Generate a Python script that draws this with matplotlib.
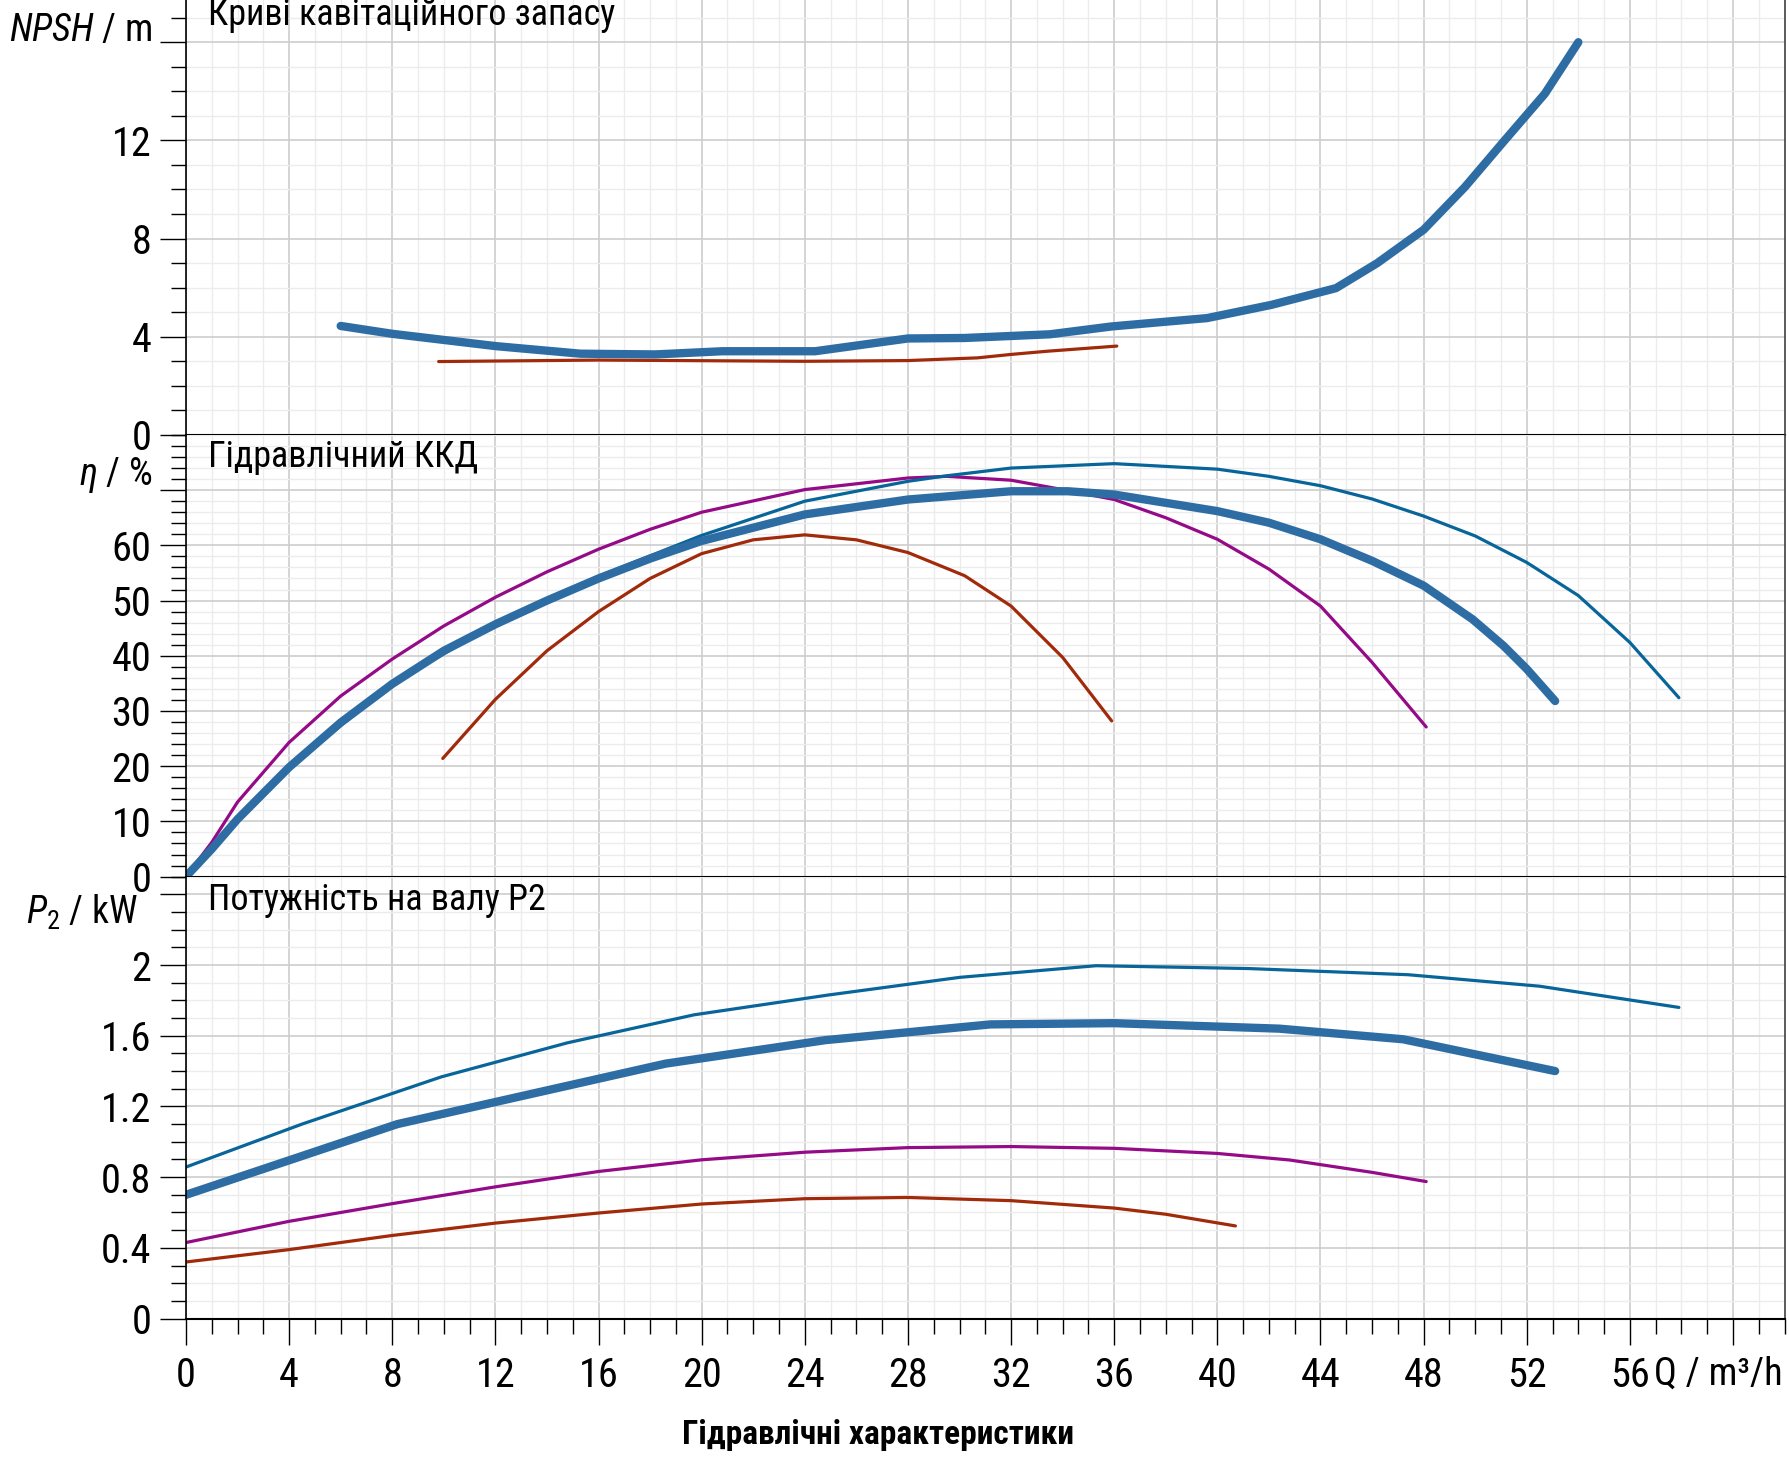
import matplotlib
matplotlib.use('Agg')
import matplotlib.pyplot as plt
from matplotlib import font_manager
from matplotlib.ticker import MultipleLocator, FuncFormatter

# narrow sans if one is installed, else Arial-metric sans at a smaller size
names = {f.name for f in font_manager.fontManager.ttflist}
if 'Liberation Sans Narrow' in names:
    fam, k = 'Liberation Sans Narrow', 1.0
elif 'Roboto Condensed' in names:
    fam, k = 'Roboto Condensed', 1.0
else:
    fam, k = 'Liberation Sans', 0.85

plt.rcParams['font.family'] = [fam, 'DejaVu Sans']
plt.rcParams['mathtext.fontset'] = 'custom'
plt.rcParams['mathtext.rm'] = fam
plt.rcParams['mathtext.it'] = fam + ':italic'

# --- NPSH / m ---
npsh_thick_q = [6, 8, 12, 15.3, 18.2, 20.8, 24.4, 28, 30.2, 33.5, 35.9, 39.6, 42.1, 44.6, 46.2, 48, 49.6, 51.1, 52.7, 54.0]
npsh_thick = [4.44, 4.12, 3.62, 3.31, 3.28, 3.41, 3.41, 3.93, 3.95, 4.1, 4.42, 4.76, 5.3, 5.98, 7.0, 8.36, 10.1, 11.95, 13.9, 16.0]
npsh_purple_q = [6, 8, 12, 16, 20, 24, 28]
npsh_purple = [4.5, 4.12, 3.62, 3.32, 3.35, 3.42, 3.93]
npsh_red_q = [9.8, 16, 24, 28, 30.7, 32, 33.4, 36.1]
npsh_red = [2.99, 3.05, 3.0, 3.03, 3.14, 3.28, 3.41, 3.62]

# --- efficiency / % ---
eta_thick_q = [0, 1, 2, 4, 6, 8, 10, 12, 14, 16, 18, 20, 24, 28, 32, 34.2, 36, 40, 42, 44, 46, 48, 49.9, 51.1, 52, 53.1]
eta_thick = [0, 5.0, 10.4, 19.8, 27.9, 34.9, 40.9, 45.7, 50.0, 54.0, 57.6, 60.8, 65.6, 68.3, 69.8, 69.8, 69.2, 66.2, 64.1, 61.1, 57.2, 52.7, 46.6, 41.8, 37.6, 31.8]
eta_thin_q = [0, 2, 4, 8, 12, 16, 20, 24, 28, 29.5, 32, 36, 40, 42, 44, 46, 48, 50, 52, 54, 56, 57.9]
eta_thin = [0, 10.4, 19.8, 34.9, 45.8, 54.4, 61.8, 68.0, 71.6, 72.6, 74.0, 74.8, 73.8, 72.5, 70.8, 68.4, 65.3, 61.7, 56.9, 50.9, 42.4, 32.4]
eta_purple_q = [0, 1, 2, 4, 6, 8, 10, 12, 14, 16, 18, 20, 24, 28, 29.5, 32, 34, 36, 38, 40, 42, 44, 46, 48.1]
eta_purple = [0, 6.2, 13.5, 24.3, 32.7, 39.4, 45.4, 50.6, 55.2, 59.3, 62.9, 66.0, 70.1, 72.2, 72.5, 71.8, 70.1, 68.3, 65.0, 61.1, 55.7, 49.0, 38.8, 27.1]
eta_red_q = [9.96, 12, 14, 16, 18, 20, 22, 24, 26, 28, 30.2, 32, 34, 35.9]
eta_red = [21.4, 32.1, 40.9, 48.0, 54.0, 58.5, 61.0, 61.9, 61.0, 58.7, 54.5, 49.0, 39.7, 28.2]

# --- shaft power P2 / kW ---
p2_thin_q = [0, 4.5, 9.9, 14.8, 19.7, 24.9, 30, 35.3, 41.2, 47.4, 52.5, 57.9]
p2_thin = [0.857, 1.10, 1.367, 1.56, 1.718, 1.83, 1.93, 1.996, 1.98, 1.945, 1.88, 1.76]
p2_thick_q = [0, 8.2, 18.6, 24.8, 31.2, 36, 42.4, 47.2, 53.1]
p2_thick = [0.70, 1.10, 1.442, 1.575, 1.664, 1.671, 1.64, 1.58, 1.40]
p2_purple_q = [0, 4, 8, 12, 16, 20, 24, 28, 32, 36, 40, 42.8, 46, 48.1]
p2_purple = [0.43, 0.55, 0.65, 0.745, 0.832, 0.898, 0.941, 0.967, 0.973, 0.963, 0.934, 0.897, 0.827, 0.775]
p2_red_q = [0, 4, 8, 12, 16, 20, 24, 28, 32, 36, 38, 40.7]
p2_red = [0.32, 0.39, 0.47, 0.54, 0.597, 0.648, 0.678, 0.685, 0.667, 0.625, 0.59, 0.524]

c_thick = '#2E6DA4'
c_thin = '#08659A'
c_purple = '#950A86'
c_red = '#A12A0B'
lw_thin = 2.3
lw_thick = 6

fs_tick = 29 * k
fs_title = 26 * k
fs_label = 27 * k
fs_xlabel = 24 * k

fig = plt.figure(figsize=(17.89, 14.6), dpi=100)
left, width = 0.10395, 0.8936
ax_n = fig.add_axes([left, 0.7021, width, 0.2979])
ax_e = fig.add_axes([left, 0.3996, width, 0.3025])
ax_p = fig.add_axes([left, 0.09688, width, 0.3027])


def style(ax, ymax, yticks, ylabels, yminor, xlabels):
    ax.set_xlim(0, 62)
    ax.set_ylim(0, ymax)
    ax.xaxis.set_major_locator(MultipleLocator(4))
    ax.xaxis.set_minor_locator(MultipleLocator(1))
    ax.set_yticks(yticks)
    ax.set_yticklabels(ylabels)
    ax.yaxis.set_minor_locator(MultipleLocator(yminor))
    ax.grid(which='major', color='#cdcdcd', lw=1.2)
    ax.grid(which='minor', color='#ececec', lw=1.0)
    ax.set_axisbelow(True)
    ax.spines['top'].set_visible(False)
    ax.spines['left'].set_color('black')
    ax.spines['left'].set_linewidth(1.2)
    ax.spines['bottom'].set_color('black')
    ax.spines['bottom'].set_linewidth(1.5)
    ax.spines['right'].set_color('#404040')
    ax.spines['right'].set_linewidth(1.2)
    ax.tick_params(axis='y', which='major', length=19, width=1, labelsize=fs_tick, pad=6)
    ax.tick_params(axis='y', which='minor', length=11, width=1)
    if xlabels:
        ax.tick_params(axis='x', which='major', length=19, width=1, labelsize=fs_tick, pad=8)
        ax.tick_params(axis='x', which='minor', length=11, width=1)
        ax.xaxis.set_major_formatter(FuncFormatter(lambda v, p: '' if v > 57 else f'{v:g}'))
    else:
        ax.tick_params(axis='x', which='both', length=0, labelbottom=False)


style(ax_n, 17.72, [0, 4, 8, 12, 16], ['0', '4', '8', '12', ''], 1, False)
style(ax_e, 80, [0, 10, 20, 30, 40, 50, 60, 70], ['0', '10', '20', '30', '40', '50', '60', ''], 2, False)
style(ax_p, 2.5, [0, 0.4, 0.8, 1.2, 1.6, 2.0, 2.4], ['0', '0.4', '0.8', '1.2', '1.6', '2', ''], 0.1, True)

# NPSH curves
ax_n.plot(npsh_red_q, npsh_red, color=c_red, lw=lw_thin, solid_capstyle='round')
ax_n.plot(npsh_purple_q, npsh_purple, color=c_purple, lw=lw_thin, solid_capstyle='round')
ax_n.plot(npsh_thick_q, npsh_thick, color=c_thick, lw=lw_thick, solid_capstyle='round', solid_joinstyle='round')

# efficiency curves
ax_e.plot(eta_red_q, eta_red, color=c_red, lw=lw_thin, solid_capstyle='round')
ax_e.plot(eta_purple_q, eta_purple, color=c_purple, lw=lw_thin, solid_capstyle='round')
ax_e.plot(eta_thin_q, eta_thin, color=c_thin, lw=lw_thin, solid_capstyle='round')
ax_e.plot(eta_thick_q, eta_thick, color=c_thick, lw=lw_thick, solid_capstyle='round', solid_joinstyle='round')

# power curves
ax_p.plot(p2_red_q, p2_red, color=c_red, lw=lw_thin, solid_capstyle='round')
ax_p.plot(p2_purple_q, p2_purple, color=c_purple, lw=lw_thin, solid_capstyle='round')
ax_p.plot(p2_thin_q, p2_thin, color=c_thin, lw=lw_thin, solid_capstyle='round')
ax_p.plot(p2_thick_q, p2_thick, color=c_thick, lw=lw_thick, solid_capstyle='round', solid_joinstyle='round')

# panel titles
fig.text(0.1163, 0.9829, 'Криві кавітаційного запасу', fontsize=fs_title, va='baseline')
fig.text(0.1163, 0.6803, 'Гідравлічний ККД', fontsize=fs_title, va='baseline')
fig.text(0.1163, 0.3767, 'Потужність на валу P2', fontsize=fs_title, va='baseline')

# axis labels
fig.text(0.0849, 0.9721, r'$NPSH$ / m', fontsize=fs_label, ha='right', va='baseline')
fig.text(0.0849, 0.6680, r'$\eta$ / %', fontsize=fs_label, ha='right', va='baseline')
fig.text(0.0770, 0.3671, r'$P_2$ / kW', fontsize=fs_label, ha='right', va='baseline')
fig.text(0.9966, 0.0519, 'Q / m³/h', fontsize=27.5 * k, ha='right', va='baseline')
fig.text(0.491, 0.0171, 'Гідравлічні характеристики', fontsize=fs_xlabel, fontweight='bold', ha='center', va='center')

fig.savefig('out.png', dpi=100)
